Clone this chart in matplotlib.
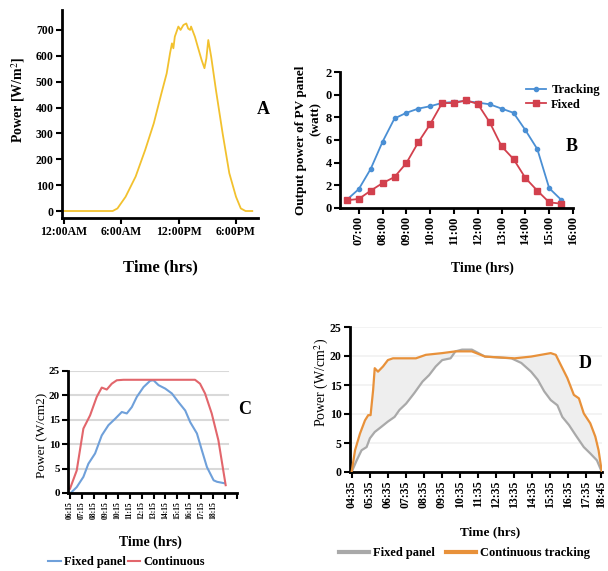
import numpy as np
import matplotlib
matplotlib.use("Agg")
import matplotlib.pyplot as plt

plt.rcParams['font.family'] = ['Liberation Serif', 'DejaVu Serif']
plt.rcParams['mathtext.fontset'] = 'stix'

# ---------------- data ----------------
# A: solar irradiance over a day (hours since midnight)
a_hours = [0, 5.1, 5.6, 6.45, 7.5, 8.5, 9.4, 10.2, 10.75, 11.1, 11.3, 11.45, 11.6, 11.97,
           12.2, 12.5, 12.8, 13.0, 13.2, 13.3, 13.7, 14.0, 14.4, 14.7, 14.9, 15.1, 15.4,
           15.9, 16.6, 17.3, 18.0, 18.5, 19.0, 19.7]
a_power = [0, 0, 10, 55, 133, 236, 339, 455, 532, 610, 648, 629, 674, 713,
           700, 719, 725, 705, 700, 713, 674, 635, 584, 552, 590, 661, 597,
           468, 300, 146, 55, 10, 0, 0]
a_ticks = [0, 6, 12, 18]
a_ticklabels = ['12:00AM', '6:00AM', '12:00PM', '6:00PM']

# B: PV panel output, half-hourly 06:30 - 15:30
b_hours = [6.5 + 0.5 * i for i in range(19)]
b_tracking = [0.73, 1.67, 3.45, 5.85, 7.9, 8.4, 8.77, 8.98, 9.27, 9.36, 9.44, 9.3, 9.15,
              8.77, 8.4, 6.87, 5.2, 1.75, 0.73]
b_fixed = [0.68, 0.8, 1.53, 2.2, 2.73, 3.97, 5.8, 7.4, 9.26, 9.26, 9.5, 9.18, 7.56,
           5.44, 4.32, 2.65, 1.53, 0.5, 0.38]
b_ticks = list(range(7, 17))
b_ticklabels = ['%02d:00' % h for h in b_ticks]
b_yticklabels = ['0', '2', '4', '6', '8', '0', '2']

# C: fixed panel vs continuous tracking
c_cont_hours = [6.25, 6.81, 7.37, 7.93, 8.49, 8.91, 9.33, 9.75, 10.17, 10.73, 16.73,
                17.15, 17.57, 18.13, 18.69, 19.3]
c_cont = [0.9, 4.6, 13.2, 15.9, 19.7, 21.6, 21.2, 22.4, 23.1, 23.2, 23.2,
          22.4, 20.4, 16.3, 10.8, 1.6]
c_fixed_hours = [6.39, 6.81, 7.37, 7.79, 8.35, 8.91, 9.47, 10.03, 10.59, 11.01, 11.43,
                 11.85, 12.41, 12.97, 13.25, 13.67, 14.23, 14.79, 15.35, 15.91, 16.33,
                 16.89, 17.31, 17.73, 18.29, 18.57, 19.19]
c_fixed = [0.2, 1.2, 3.3, 6.0, 8.1, 11.8, 13.9, 15.2, 16.6, 16.3, 17.6,
           19.7, 21.7, 23.0, 23.1, 22.1, 21.4, 20.4, 18.6, 16.9, 14.5,
           12.2, 8.7, 5.3, 2.6, 2.3, 2.0]
c_ticks = [6.25 + i for i in range(15)]
c_ticklabels = ['%02d:15' % h for h in range(6, 19)] + ['', '']

# D: fixed panel vs continuous tracking
d_cont_hours = [4.58, 4.77, 5.04, 5.32, 5.50, 5.63, 5.77, 5.86, 6.04, 6.32, 6.59, 6.87,
                7.23, 8.14, 8.69, 9.60, 10.33, 11.24, 11.97, 13.61, 14.52, 15.61,
                15.89, 16.16, 16.53, 16.89, 17.17, 17.44, 17.80, 18.08, 18.26, 18.44]
d_cont = [0, 3.75, 6.6, 8.9, 9.8, 9.8, 14.1, 17.9, 17.3, 18.2, 19.3, 19.6,
          19.6, 19.6, 20.2, 20.5, 20.8, 20.8, 19.9, 19.6, 19.9, 20.5,
          20.2, 18.5, 16.2, 13.3, 12.7, 10.1, 8.4, 6.1, 3.75, 0]
d_fixed_hours = [4.58, 4.86, 5.13, 5.41, 5.59, 5.86, 6.23, 6.59, 6.96, 7.23, 7.60, 8.05,
                 8.51, 8.87, 9.24, 9.60, 10.06, 10.33, 10.70, 11.24, 11.97, 13.43,
                 13.98, 14.52, 14.89, 15.25, 15.61, 15.98, 16.25, 16.62, 16.98, 17.44,
                 17.80, 18.17, 18.44]
d_fixed = [0, 2, 3.75, 4.3, 5.8, 6.9, 7.8, 8.7, 9.5, 10.7, 11.8, 13.6,
           15.6, 16.7, 18.2, 19.3, 19.6, 20.8, 21.1, 21.1, 19.9, 19.6,
           18.8, 17.3, 15.9, 13.9, 12.4, 11.5, 9.5, 8.1, 6.4, 4.3,
           3.2, 2.0, 0]
d_ticks = [4.583 + i for i in range(14)] + [18.4]
d_ticklabels = ['%02d:35' % h for h in range(4, 18)] + ['18:45']

# ---------------- layout ----------------
W, H = 608, 571
fig = plt.figure(figsize=(W / 100, H / 100), dpi=100)


def box(l, t, r, b):
    return [l / W, 1 - b / H, (r - l) / W, (b - t) / H]


def ftext(x, y, s, **kw):
    fig.text(x / W, 1 - y / H, s, **kw)


def prism(ax, lw=2):
    for s in ['top', 'right']:
        ax.spines[s].set_visible(False)
    for s in ['left', 'bottom']:
        ax.spines[s].set_linewidth(lw)
    ax.tick_params(direction='out', width=1.5, length=4, pad=2)


# ---- A ----
axA = fig.add_axes(box(62, 10, 258, 218))
axA.plot(a_hours, a_power, color='#F2C12E', lw=1.3)
axA.set_xlim(-0.2, 20.3)
axA.set_ylim(-27, 777)
axA.set_yticks(range(0, 800, 100))
axA.set_xticks(a_ticks)
axA.set_xticklabels(a_ticklabels)
prism(axA)
for lab in axA.get_xticklabels() + axA.get_yticklabels():
    lab.set_fontsize(8.5)
    lab.set_fontweight('bold')
ftext(18, 100, 'Power [W/m$^2$]', rotation=90, ha='center', va='center',
      fontsize=10, fontweight='bold')
ftext(160, 267, 'Time (hrs)', ha='center', va='center', fontsize=12, fontweight='bold')
ftext(263, 110, 'A', ha='center', va='center', fontsize=13, fontweight='bold')

# ---- B ----
axB = fig.add_axes(box(340, 72, 573, 208))
axB.plot(b_hours, b_tracking, color='#4A8FD4', lw=1.3, marker='o', ms=3,
         label='Tracking')
axB.plot(b_hours, b_fixed, color='#D2404D', lw=1.3, marker='s', ms=4.5,
         label='Fixed')
axB.set_xlim(6.21, 16.0)
axB.set_ylim(0, 12)
axB.set_yticks(range(0, 13, 2))
axB.set_yticklabels(b_yticklabels)
axB.set_xticks(b_ticks)
axB.set_xticklabels(b_ticklabels, rotation=90)
prism(axB)
for lab in axB.get_xticklabels() + axB.get_yticklabels():
    lab.set_fontsize(9)
    lab.set_fontweight('bold')
axB.legend(loc='upper left', bbox_to_anchor=(520 / W, 1 - 78 / H),
           bbox_transform=fig.transFigure, frameon=False, handlelength=1.6,
           handletextpad=0.4, labelspacing=0.2, borderpad=0,
           prop={'weight': 'bold', 'size': 9})
ftext(301, 140, 'Output power of PV panel', rotation=90, ha='center', va='center',
      fontsize=9.5, fontweight='bold')
ftext(316, 119, '(watt)', rotation=90, ha='center', va='center',
      fontsize=9.5, fontweight='bold')
ftext(482, 268, 'Time (hrs)', ha='center', va='center', fontsize=10, fontweight='bold')
ftext(572, 147, 'B', ha='center', va='center', fontsize=13, fontweight='bold')

# ---- C ----
axC = fig.add_axes(box(68, 371, 237, 493))
for g in range(5, 26, 5):
    axC.plot([6.08, 19.5], [g, g], color='#D9D9D9', lw=1.5, zorder=0)
axC.plot(c_fixed_hours, c_fixed, color='#6FA0DA', lw=1.5, label='Fixed panel')
axC.plot(c_cont_hours, c_cont, color='#E2666C', lw=1.5, label='Continuous')
axC.set_xlim(6.08, 20.25)
axC.set_ylim(0, 25)
axC.set_yticks(range(0, 26, 5))
axC.set_xticks(c_ticks)
axC.set_xticklabels(c_ticklabels, rotation=90)
prism(axC)
for lab in axC.get_xticklabels():
    lab.set_fontsize(5.5)
    lab.set_fontweight('bold')
for lab in axC.get_yticklabels():
    lab.set_fontsize(8)
    lab.set_fontweight('bold')
axC.legend(loc='center left', bbox_to_anchor=(42 / W, 1 - 562 / H),
           bbox_transform=fig.transFigure, frameon=False, ncol=2,
           handlelength=1.0, handletextpad=0.3, columnspacing=0.1, borderpad=0,
           prop={'weight': 'bold', 'size': 9})
ftext(42, 435, 'Power (W/cm2)', rotation=90, ha='center', va='center', fontsize=9.5)
ftext(150, 542, 'Time (hrs)', ha='center', va='center', fontsize=10, fontweight='bold')
ftext(245, 410, 'C', ha='center', va='center', fontsize=13, fontweight='bold')

# ---- D ----
axD = fig.add_axes(box(350, 327, 602, 472))
for g in range(5, 26, 5):
    axD.axhline(g, color='#F1F1F1', lw=1.2, zorder=0)
grid = np.linspace(4.58, 18.44, 300)
axD.fill_between(grid, np.interp(grid, d_fixed_hours, d_fixed),
                 np.interp(grid, d_cont_hours, d_cont), color='#EEEEEE', lw=0, zorder=1)
axD.plot(d_fixed_hours, d_fixed, color='#A9A9A9', lw=1.6, label='Fixed panel', zorder=2)
axD.plot(d_cont_hours, d_cont, color='#E8913A', lw=1.6, label='Continuous tracking', zorder=3)
axD.set_xlim(4.49, 18.45)
axD.set_ylim(0, 25)
axD.set_yticks(range(0, 26, 5))
axD.set_xticks(d_ticks)
axD.set_xticklabels(d_ticklabels, rotation=90)
prism(axD)
for lab in axD.get_xticklabels() + axD.get_yticklabels():
    lab.set_fontsize(8.5)
    lab.set_fontweight('bold')
leg = axD.legend(loc='center left', bbox_to_anchor=(333 / W, 1 - 553 / H),
                 bbox_transform=fig.transFigure, frameon=False, ncol=2,
                 handlelength=2.4, handletextpad=0.3, columnspacing=0.9, borderpad=0,
                 prop={'weight': 'bold', 'size': 9})
for ln in leg.get_lines():
    ln.set_linewidth(3)
ftext(322, 382, 'Power (W/cm$^2$)', rotation=90, ha='center', va='center', fontsize=10)
ftext(490, 532, 'Time (hrs)', ha='center', va='center', fontsize=9.5, fontweight='bold')
ftext(585, 363, 'D', ha='center', va='center', fontsize=13, fontweight='bold')

fig.savefig('out.png', dpi=100)
